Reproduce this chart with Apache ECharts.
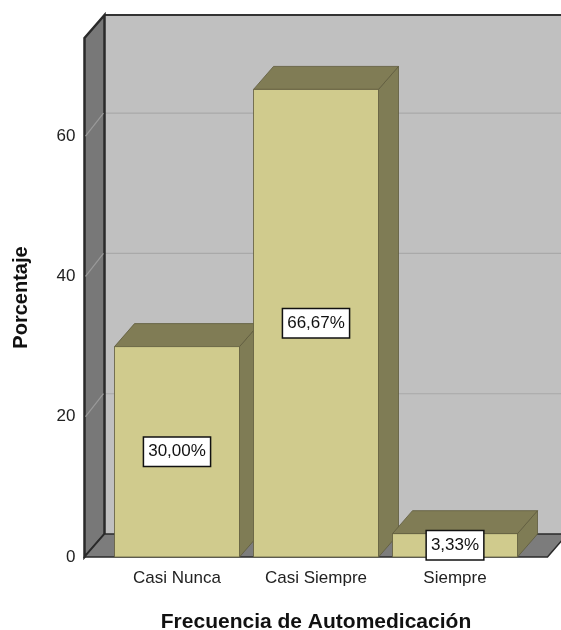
<!DOCTYPE html>
<html>
<head>
<meta charset="utf-8">
<script src="https://cdn.jsdelivr.net/npm/echarts@6/dist/echarts.min.js"></script>
<style>
  html, body { margin: 0; padding: 0; background: #fff; }
  #chart { width: 561px; height: 630px; }
</style>
</head>
<body>
<div id="chart"></div>
<script>
  // datos
  var categorias = ['Casi Nunca', 'Casi Siempre', 'Siempre'];
  var porcentajes = [30.00, 66.67, 3.33];
  var yTicks = [0, 20, 40, 60];
  var yMax = 74;

  var DX = 20, DY = -23;   // profundidad 3D
  var BAR_W = 125;
  var PAD = 23;            // margen de las paredes fuera de las bandas
  var fuente = '"Liberation Sans", Arial, sans-serif';

  var chart = echarts.init(document.getElementById('chart'));

  function fmt(v) {
    return v.toFixed(2).replace('.', ',') + '%';
  }

  var option = {
    backgroundColor: '#fff',
    animation: false,
    grid: { left: 107.5, right: 36.5, top: 38, bottom: 73, outerBoundsMode: 'none', containLabel: false },
    xAxis: {
      type: 'category',
      data: categorias,
      name: 'Frecuencia de Automedicación',
      nameLocation: 'middle',
      nameGap: 55,
      nameTextStyle: { fontFamily: fuente, fontSize: 21, fontWeight: 'bold', color: '#111' },
      axisLine: { show: false },
      axisTick: { show: false },
      axisLabel: { fontFamily: fuente, fontSize: 17, color: '#222', margin: 13 }
    },
    yAxis: {
      type: 'value',
      min: 0,
      max: yMax,
      interval: 20,
      name: 'Porcentaje',
      nameLocation: 'middle',
      nameGap: 76,
      nameTextStyle: { fontFamily: fuente, fontSize: 20, fontWeight: 'bold', color: '#111' },
      axisLine: { show: false },
      axisTick: { show: false },
      splitLine: { show: false },
      axisLabel: {
        fontFamily: fuente, fontSize: 17, color: '#222', margin: 32,
        formatter: function (v) { return yTicks.indexOf(v) >= 0 ? v : ''; }
      }
    },
    series: [
      {
        // paredes y suelo
        type: 'custom',
        silent: true,
        data: [[0, 0]],
        renderItem: function (params, api) {
          var bw = api.size([1, 0])[0];
          var x0 = api.coord([0, 0])[0] - bw / 2 - PAD;
          var x1 = api.coord([categorias.length - 1, 0])[0] + bw / 2 + PAD;
          var y0 = api.coord([0, 0])[1];
          var yT = api.coord([0, yMax])[1];
          var kids = [];
          kids.push({ type: 'rect', shape: { x: x0 + DX, y: yT + DY, width: x1 - x0, height: y0 - yT },
            style: { fill: '#c0c0c0' } });
          yTicks.forEach(function (t) {
            if (t === 0) return;
            var yy = api.coord([0, t])[1];
            kids.push({ type: 'line', shape: { x1: x0 + DX, y1: yy + DY, x2: x1 + DX, y2: yy + DY },
              style: { stroke: '#a9a9a9', lineWidth: 1.2 } });
          });
          kids.push({ type: 'line', shape: { x1: x0 + DX, y1: yT + DY, x2: x1 + DX + 10, y2: yT + DY },
            style: { stroke: '#333', lineWidth: 2 } });
          kids.push({ type: 'polygon', shape: { points: [[x0, yT], [x0 + DX, yT + DY], [x0 + DX, y0 + DY], [x0, y0]] },
            style: { fill: '#787878', stroke: '#2a2a2a', lineWidth: 2.5 } });
          yTicks.forEach(function (t) {
            if (t === 0) return;
            var yy = api.coord([0, t])[1];
            kids.push({ type: 'line', shape: { x1: x0 + 1, y1: yy, x2: x0 + DX - 1, y2: yy + DY },
              style: { stroke: '#9a9a9a', lineWidth: 1.2 } });
          });
          kids.push({ type: 'polygon', shape: { points: [[x0, y0], [x0 + DX, y0 + DY], [x1 + DX, y0 + DY], [x1, y0]] },
            style: { fill: '#7c7c7c', stroke: '#2a2a2a', lineWidth: 1.5 } });
          return { type: 'group', children: kids };
        },
        z: 1
      },
      {
        // barras 3D
        type: 'custom',
        data: porcentajes.map(function (v, i) { return [i, v]; }),
        renderItem: function (params, api) {
          var c = api.coord([api.value(0), api.value(1)]);
          var y0 = api.coord([api.value(0), 0])[1];
          var yc = api.coord([api.value(0), api.value(1) / 2])[1];
          var l = c[0] - BAR_W / 2, r = c[0] + BAR_W / 2, yv = c[1];
          var edge = { stroke: '#5e5b3c', lineWidth: 0.8 };
          return {
            type: 'group',
            children: [
              { type: 'polygon', shape: { points: [[r, yv], [r + DX, yv + DY], [r + DX, y0 + DY], [r, y0]] },
                style: Object.assign({ fill: '#7f7c55' }, edge) },
              { type: 'polygon', shape: { points: [[l, yv], [l + DX, yv + DY], [r + DX, yv + DY], [r, yv]] },
                style: Object.assign({ fill: '#807c55' }, edge) },
              { type: 'rect', shape: { x: l, y: yv, width: BAR_W, height: y0 - yv },
                style: Object.assign({ fill: '#d0cb8d' }, edge) },
              { type: 'text', z2: 10, style: {
                  text: fmt(api.value(1)), x: c[0], y: yc, align: 'center', verticalAlign: 'middle',
                  fontFamily: fuente, fontSize: 17, fill: '#111',
                  backgroundColor: '#fff', borderColor: '#111', borderWidth: 1.5,
                  padding: [6, 4, 5, 4]
                } }
            ]
          };
        },
        z: 2
      }
    ]
  };

  chart.setOption(option);
</script>
</body>
</html>
